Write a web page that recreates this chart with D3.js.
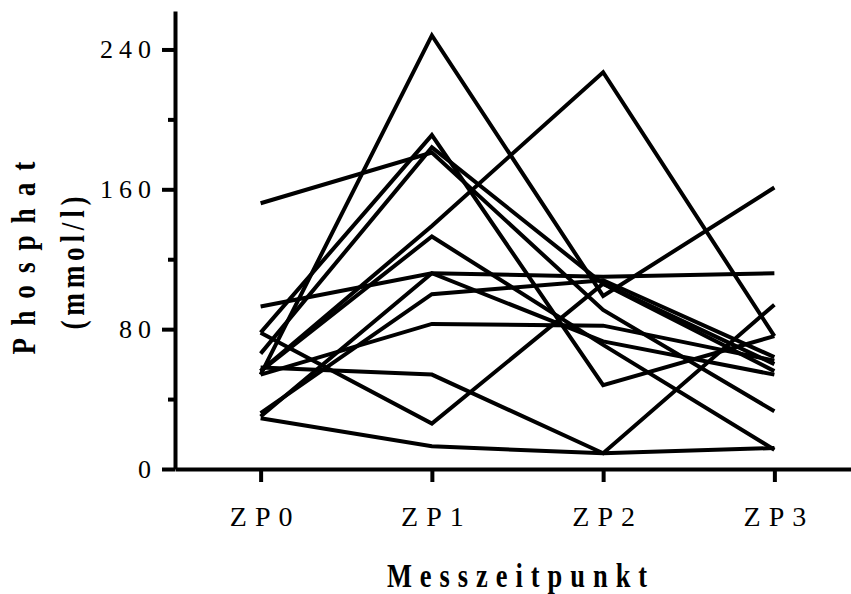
<!DOCTYPE html>
<html>
<head>
<meta charset="utf-8">
<script src="https://cdn.jsdelivr.net/npm/d3@7/dist/d3.min.js"></script>
<style>
  body { margin: 0; background: #fff; }
  .tick text, .lbl { font-family: "Liberation Serif", "Times New Roman", serif; fill: #000; }
</style>
</head>
<body>
<svg class="chart" width="851" height="594"></svg>
<script>
// time points
const categories = ["ZP0", "ZP1", "ZP2", "ZP3"]
const yMajorTicks = [0, 80, 160, 240]
const yMinorTicks = [40, 120, 200]

// one array per patient, values in mmol/l at ZP0..ZP3
const s01 = [152, 181, 91, 33]
const s02 = [29, 13, 9, 12]
const s03 = [58, 54, 9, 94]
const s04 = [93, 112, 110, 112]
const s05 = [78, 191, 48, 76]
const s06 = [66, 184, 106, 56]
const s07 = [54, 83, 82, 62]
const s08 = [54, 248, 99, 161]
const s09 = [56, 139, 227, 76]
const s10 = [56, 133, 71, 11]
const s11 = [78, 26, 106, 60]
const s12 = [30, 112, 73, 54]
const s13 = [32, 100, 108, 64]
const series = [s01, s02, s03, s04, s05, s06, s07, s08, s09, s10, s11, s12, s13]

var plotLeft = 175, plotBottom = 469, plotTop = 11

var svg = d3.select(".chart")

var x = d3.scalePoint()
    .domain(categories)
    .range([plotLeft, 860])
    .padding(0.5)

var y = d3.scaleLinear()
    .domain([0, 262])
    .range([plotBottom, plotTop])

// minor ticks
svg.append("g")
    .attr("transform", "translate(" + plotLeft + ",0)")
    .call(d3.axisLeft(y).tickValues(yMinorTicks).tickSize(7).tickSizeOuter(0).tickFormat(""))
    .call(g => g.select(".domain").remove())
    .selectAll("line").attr("stroke-width", 4)

var yAxis = svg.append("g")
    .attr("transform", "translate(" + plotLeft + ",0)")
    .call(d3.axisLeft(y).tickValues(yMajorTicks).tickSize(13).tickSizeOuter(0).tickPadding(11))
yAxis.select(".domain").attr("stroke-width", 4)
yAxis.selectAll("line").attr("stroke-width", 4)
yAxis.selectAll("text")
    .attr("font-size", 26)
    .style("letter-spacing", "6px")
    .attr("dx", 6)

var xAxis = svg.append("g")
    .attr("transform", "translate(0," + plotBottom + ")")
    .call(d3.axisBottom(x).tickSize(13).tickSizeOuter(0).tickPadding(24))
xAxis.select(".domain").attr("stroke-width", 4)
xAxis.selectAll("line").attr("stroke-width", 4)
xAxis.selectAll("text")
    .attr("font-size", 28)
    .style("letter-spacing", "8px")
    .attr("dx", 4)

var line = d3.line()
    .x((d, i) => x(categories[i]))
    .y(d => y(d))

svg.append("g")
    .selectAll("path")
    .data(series)
    .enter().append("path")
    .attr("d", line)
    .attr("fill", "none")
    .attr("stroke", "#000")
    .attr("stroke-width", 4)
    .attr("stroke-linejoin", "miter")

// condensed bold titles
function title(tx, ty, rot, size, spacing, txt) {
    svg.append("text")
        .attr("class", "lbl")
        .attr("transform", `translate(${tx},${ty}) rotate(${rot}) scale(0.8,1)`)
        .attr("text-anchor", "middle")
        .attr("font-size", size)
        .attr("font-weight", "bold")
        .style("letter-spacing", spacing + "px")
        .attr("dx", spacing / 2)
        .text(txt)
}

title(35, 258, -90, 34, 15, "Phosphat")
title(84, 263, -90, 34, 6, "(mmol/l)")
title(517, 587, 0, 33, 10, "Messzeitpunkt")
</script>
</body>
</html>
